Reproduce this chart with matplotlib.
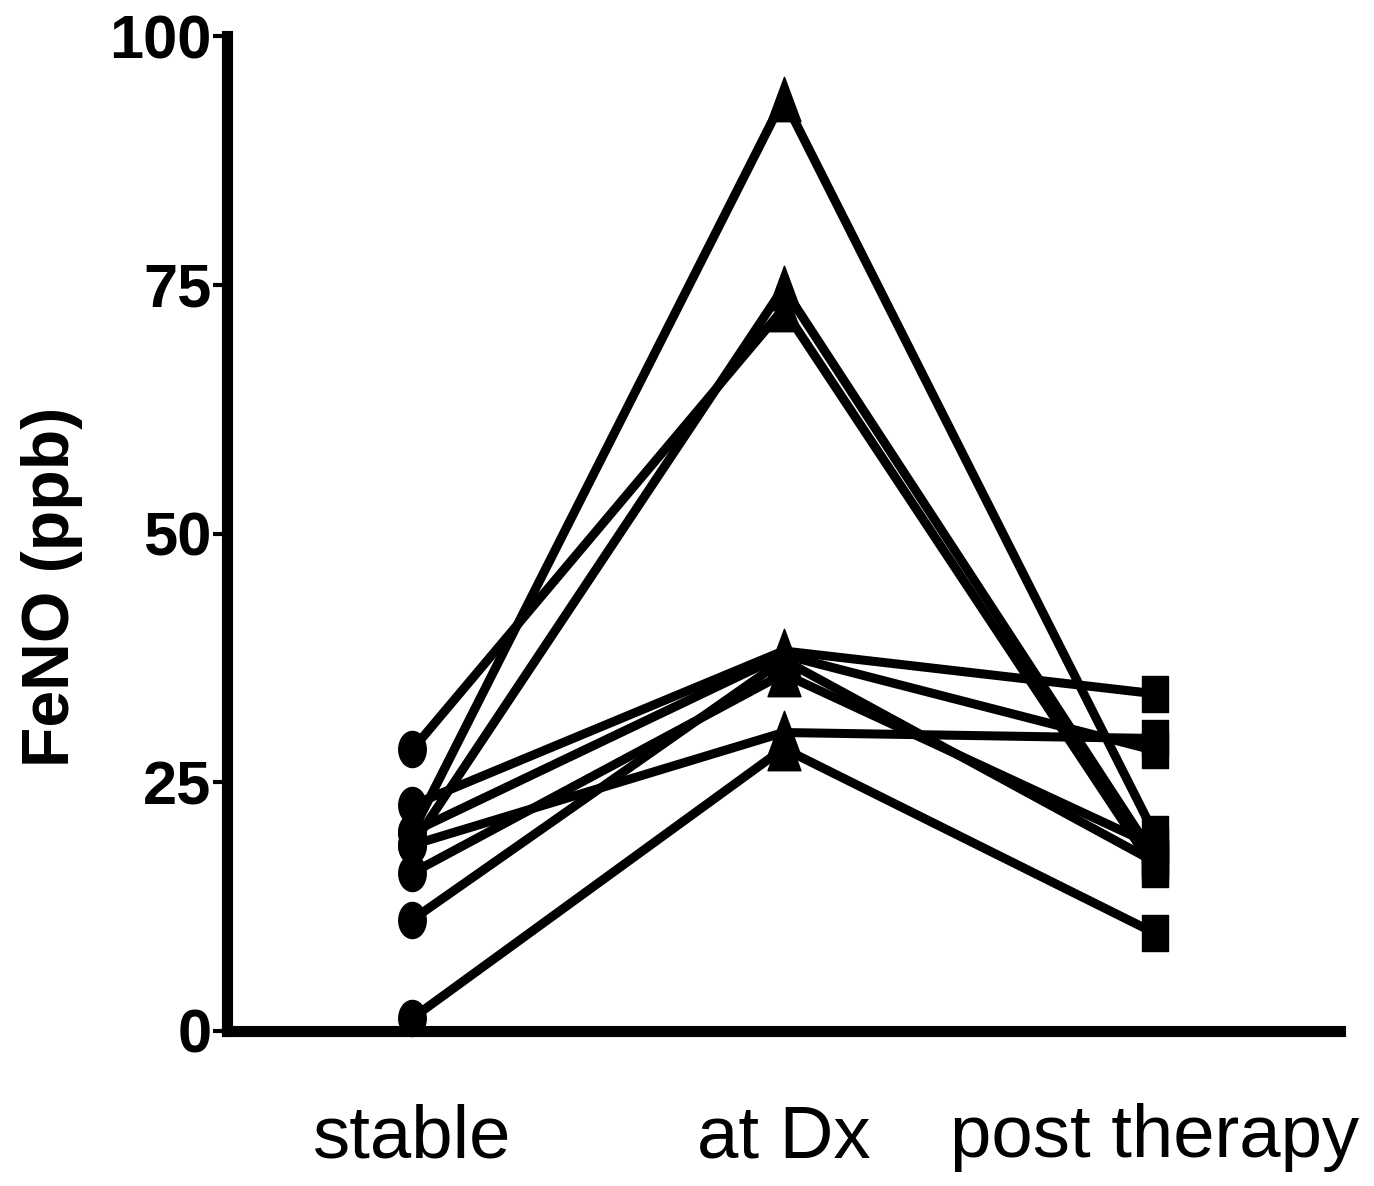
import numpy as np
import matplotlib
matplotlib.use('Agg')
import matplotlib.pyplot as plt
from matplotlib.path import Path
from matplotlib import font_manager

# FeNO per subject (ppb)
groups = ['stable', 'at Dx', 'post therapy']
stable = [28.3, 20.0, 18.7, 22.7, 20.0, 18.7, 15.9, 11.2, 1.3]
at_dx = [72.6, 93.7, 74.7, 38.2, 37.8, 30.0, 35.9, 37.3, 28.4]
post = [16.3, 19.8, 17.5, 33.9, 28.2, 29.4, 18.6, 17.0, 9.85]
yticks = [0, 25, 50, 75, 100]

# the original is a narrow, tall-looking sans; use a narrow face when there is one
names = {f.name for f in font_manager.fontManager.ttflist}
if 'Liberation Sans Narrow' in names:
    fam = ['Liberation Sans Narrow', 'Liberation Sans', 'DejaVu Sans']
    k = 1.0
else:
    fam = ['Liberation Sans', 'DejaVu Sans']
    k = 0.85
plt.rcParams['font.family'] = fam

# markers are a bit taller than wide in the original
t = np.linspace(0, 2 * np.pi, 60)
ellipse = Path(np.column_stack([0.38 * np.cos(t), 0.5 * np.sin(t)]), closed=True)
rect = Path([(-0.38, -0.5), (0.38, -0.5), (0.38, 0.5), (-0.38, 0.5), (-0.38, -0.5)], closed=True)
tri = Path([(-0.37, -0.5), (0.37, -0.5), (0.0, 0.5), (-0.37, -0.5)], closed=True)

fig = plt.figure(figsize=(13.74, 11.86), dpi=100)
ax = fig.add_axes([0.1652, 0.1307, 0.8101, 0.8389])

x = np.arange(len(groups))
for s, d, p in zip(stable, at_dx, post):
    ax.plot(x, [s, d, p], color='black', lw=6.5, solid_capstyle='butt', zorder=2)

ax.plot([x[0]] * len(stable), stable, ls='none', marker=ellipse, ms=26,
        color='black', clip_on=False, zorder=3)
ax.plot([x[1]] * len(at_dx), at_dx, ls='none', marker=tri, ms=32,
        color='black', clip_on=False, zorder=3)
ax.plot([x[2]] * len(post), post, ls='none', marker=rect, ms=25.5,
        color='black', clip_on=False, zorder=3)

ax.set_xlim(-0.5, 2.5)
ax.set_ylim(0, 100)
ax.spines['top'].set_visible(False)
ax.spines['right'].set_visible(False)
for sp in ['left', 'bottom']:
    ax.spines[sp].set_linewidth(8)
    ax.spines[sp].set_capstyle('projecting')

ax.set_yticks(yticks)
ax.set_yticklabels([str(v) for v in yticks], fontsize=52 * k, fontweight='bold')
ax.tick_params(axis='y', length=10, width=3, pad=1)
ax.set_xticks(x)
ax.set_xticklabels(groups, fontsize=63 * k)
ax.tick_params(axis='x', length=0, pad=52)

fig.text(0.038, 0.505, 'FeNO (ppb)', rotation=90, ha='center', va='center',
         fontsize=56 * k, fontweight='bold')

plt.savefig('out.png', dpi=100)
